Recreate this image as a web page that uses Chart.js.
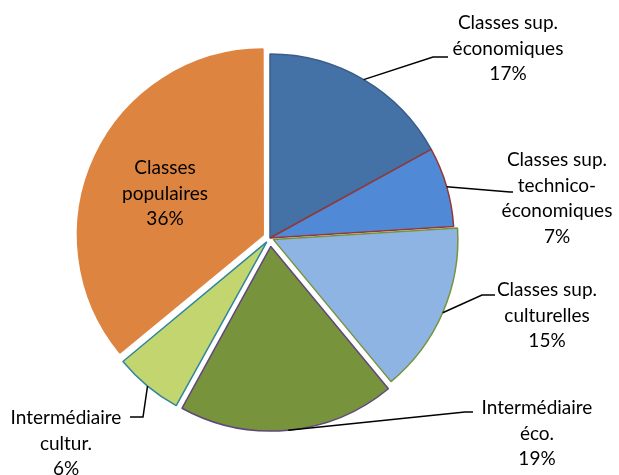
<!DOCTYPE html>
<html lang="fr">
<head>
    <meta charset="UTF-8">
    <title>Pie - classes</title>
    <script src="https://cdn.jsdelivr.net/npm/chart.js"></script>
    <style>
        body { margin: 0; background: #fff; }
        .container { width: 619px; height: 475px; }
    </style>
</head>
<body>
    <div class="container"><canvas id="chart"></canvas></div>

    <script>
        // data
        const labels = [
            ['Classes sup.', 'économiques'],
            ['Classes sup.', 'technico-', 'économiques'],
            ['Classes sup.', 'culturelles'],
            ['Intermédiaire', 'éco.'],
            ['Intermédiaire', 'cultur.'],
            ['Classes', 'populaires']
        ];
        const values = [17, 7, 15, 19, 6, 36];

        const fillColors = ['#4471A6', '#508AD6', '#8EB4E3', '#77933C', '#C3D56F', '#DD8441'];
        const edgeColors = ['#385D8A', '#953735', '#77933C', '#5F497A', '#31859C', '#DD8441'];
        const explode = [0, 0, 14, 34, 20, 30];

        // label boxes: centre x, first line y, leader elbow (null = inside, no leader)
        const labelPos = [
            { x: 508, y: 23, elbow: [433, 57], end: 448 },
            { x: 557, y: 160, elbow: [510, 192], end: 513 },
            { x: 547, y: 290, elbow: [482, 295], end: 495 },
            { x: 537, y: 408, elbow: [465, 412], end: 473 },
            { x: 66, y: 418, elbow: [143, 417], end: 130 },
            { x: 165, y: 168, elbow: null }
        ];

        const lineH = 25.5;
        const font = '19px Lato, "Open Sans", sans-serif';

        const labelPlugin = {
            id: 'pieLabels',
            afterDatasetsDraw(chart) {
                const ctx = chart.ctx;
                const meta = chart.getDatasetMeta(0);
                ctx.save();
                meta.data.forEach((arc, i) => {
                    const p = labelPos[i];
                    const mid = (arc.startAngle + arc.endAngle) / 2;
                    const off = (arc.options.offset || 0) / 4;
                    const fix = 1 - Math.sin(Math.min(Math.PI, arc.circumference));
                    const r = arc.outerRadius + off * fix;
                    if (p.elbow) {
                        const ax = arc.x + Math.cos(mid) * (off + r);
                        const ay = arc.y + Math.sin(mid) * (off + r);
                        ctx.beginPath();
                        ctx.strokeStyle = '#000';
                        ctx.lineWidth = 1.5;
                        ctx.moveTo(ax, ay);
                        ctx.lineTo(p.elbow[0], p.elbow[1]);
                        ctx.lineTo(p.end, p.elbow[1]);
                        ctx.stroke();
                    }
                    const lines = labels[i].concat([values[i] + '%']);
                    ctx.font = font;
                    ctx.fillStyle = '#000';
                    ctx.textAlign = 'center';
                    ctx.textBaseline = 'middle';
                    lines.forEach((t, k) => ctx.fillText(t, p.x, p.y + k * lineH));
                });
                ctx.restore();
            }
        };

        new Chart(document.getElementById('chart').getContext('2d'), {
            type: 'pie',
            data: {
                labels: labels.map(l => l.join(' ')),
                datasets: [{
                    data: values,
                    backgroundColor: fillColors,
                    borderColor: edgeColors,
                    borderWidth: 1.5,
                    offset: explode
                }]
            },
            options: {
                responsive: true,
                maintainAspectRatio: false,
                animation: false,
                radius: 184,
                layout: { padding: { left: 0, right: 79, top: 1, bottom: 0 } },
                plugins: {
                    legend: { display: false },
                    tooltip: { enabled: false }
                }
            },
            plugins: [labelPlugin]
        });
    </script>
</body>
</html>
